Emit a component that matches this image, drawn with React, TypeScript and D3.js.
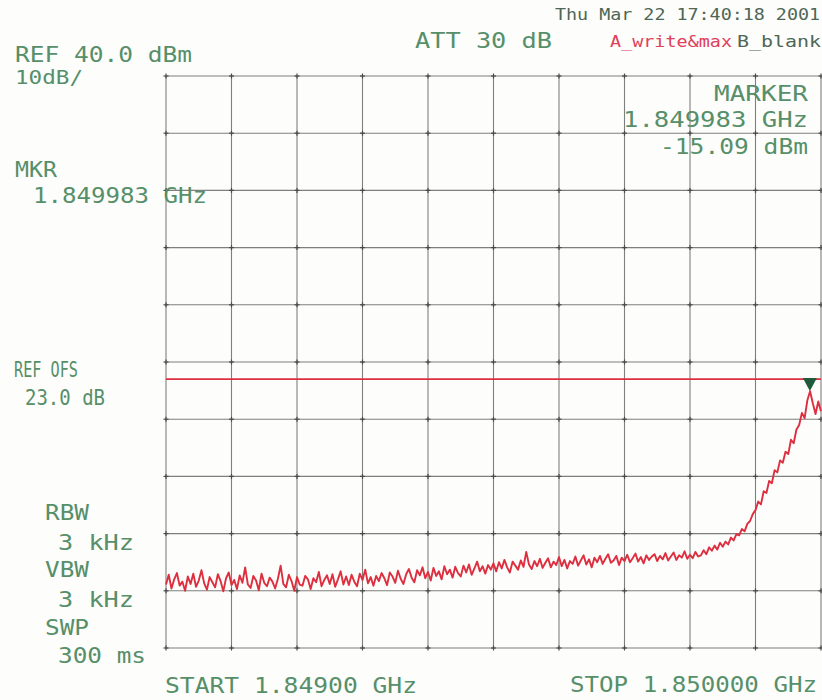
import React from "react";
import * as d3 from "d3";

// Sweep settings
const startGHz = 1.849;
const stopGHz = 1.85;
const refLevel = 40; // dBm at top graticule
const dbPerDiv = 10;
const divisions = 10;

// Display line and marker
const displayLineDbm = -13;
const markerGHz = 1.849983;
const markerDbm = -15.09;

// Trace A (write / max hold), dBm, 241 points across the span
const traceDbm = [
  -48.9, -47.2, -49.6, -48.0, -46.9, -49.1, -48.4, -50.0, -47.5, -48.8,
  -47.0, -49.3, -48.2, -46.4, -48.7, -49.8, -47.6, -48.5, -49.4, -47.1,
  -48.3, -50.1, -47.8, -46.8, -49.0, -48.1, -49.7, -47.3, -48.6, -45.9,
  -48.9, -49.5, -47.4, -48.2, -49.9, -47.0, -48.6, -49.2, -47.7, -48.4,
  -49.6, -47.9, -45.6, -48.8, -49.4, -47.2, -48.3, -50.0, -47.6, -48.9,
  -49.1, -47.4, -48.0, -49.7, -47.8, -48.5, -46.7, -49.2, -48.1, -47.3,
  -48.8, -47.1, -49.3, -48.0, -46.6, -48.9, -47.5, -49.0, -47.2, -48.4,
  -49.2, -47.0, -48.1, -46.3, -48.7, -47.6, -49.1, -47.4, -48.3, -46.9,
  -47.8, -49.0, -46.8, -47.5, -48.6, -46.5, -47.9, -48.8, -47.1, -46.2,
  -47.7, -48.5, -46.4, -47.3, -45.9, -47.8, -46.7, -48.2, -46.0, -47.4,
  -46.6, -48.0, -45.7, -47.1, -46.3, -47.7, -45.8, -46.9, -47.5, -45.6,
  -46.8, -45.4, -47.2, -46.1, -44.9, -46.6, -45.7, -47.0, -45.5, -46.3,
  -45.2, -46.6, -45.0, -46.1, -44.6, -45.9, -46.8, -44.9, -45.6, -46.3,
  -44.7, -45.8, -43.2, -45.4, -46.2, -44.8, -45.7, -44.4, -46.0, -45.1,
  -44.3, -45.9, -44.9, -45.5, -44.1, -45.7, -44.6, -46.1, -44.8, -45.3,
  -44.0, -45.6, -44.7, -43.8, -45.4, -44.5, -45.9, -44.2, -45.0, -43.9,
  -45.3, -44.4, -43.6, -45.1, -44.7, -43.9, -45.5, -44.2, -44.8, -43.7,
  -45.0, -44.3, -43.5, -44.9, -44.1, -45.2, -43.8, -44.6, -44.0, -43.6,
  -44.8, -43.9, -44.5, -43.4, -44.7, -44.0, -43.3, -44.6, -43.8, -44.2,
  -43.1, -44.4, -43.7, -44.3, -43.2, -44.0,
  -43.8, -42.9, -43.6, -42.4, -43.0, -42.1, -42.8, -41.6, -42.3, -41.4,
  -41.9, -40.7, -41.2, -40.1, -40.3, -39.2, -39.6, -38.3, -37.8, -36.6,
  -35.9, -34.4, -34.9, -32.6, -32.9, -30.8, -31.2, -28.9, -29.3, -27.2,
  -27.6, -25.7, -26.1, -23.6, -24.2, -21.8, -21.0, -18.9, -19.8, -16.7,
  -15.1, -17.2, -19.1, -16.9, -18.6,
];

// Annotation texts
const headerLeft = ["REF 40.0 dBm", "10dB/"];
const headerDate = "Thu Mar 22 17:40:18 2001";
const attText = "ATT 30 dB";
const traceAText = "A_write&max";
const traceBText = "B_blank";
const markerBlock = ["MARKER", "1.849983 GHz", "-15.09 dBm"];
const mkrBlock = ["MKR", "1.849983 GHz"];
const refOfsBlock = ["REF OFS", "23.0 dB"];
const bwBlock = ["RBW", "3 kHz", "VBW", "3 kHz", "SWP", "300 ms"];
const startText = "START 1.84900 GHz";
const stopText = "STOP 1.850000 GHz";

const W = 822;
const H = 700;
const plot = { left: 166, right: 821, top: 76, bottom: 648 };

const textGreen = "#568f69";
const textDark = "#4e6656";
const traceRed = "#dd2f3f";
const gridColor = "#6a6a6a";
const font = "'DejaVu Sans Mono', 'Liberation Mono', monospace";

type TxtProps = {
  x: number;
  y: number;
  len: number;
  size?: number;
  fill?: string;
  anchor?: "start" | "end";
  children: string;
};

function Txt({ x, y, len, size = 22, fill = textGreen, anchor = "start", children }: TxtProps) {
  return (
    <text
      x={x}
      y={y}
      fontFamily={font}
      fontSize={size}
      fill={fill}
      textAnchor={anchor}
      textLength={len}
      lengthAdjust="spacingAndGlyphs"
      style={{ whiteSpace: "pre" }}
    >
      {children}
    </text>
  );
}

export default function App() {
  const x = d3.scaleLinear().domain([startGHz, stopGHz]).range([plot.left, plot.right]);
  const bottomDbm = refLevel - dbPerDiv * divisions;
  const y = d3.scaleLinear().domain([bottomDbm, refLevel]).range([plot.bottom, plot.top]);

  const step = (stopGHz - startGHz) / (traceDbm.length - 1);
  const points: [number, number][] = traceDbm.map((v, i) => [startGHz + i * step, v]);

  const line = d3
    .line<[number, number]>()
    .x((d) => x(d[0]))
    .y((d) => y(d[1]));

  const xGrid = d3.range(divisions + 1).map((i) => startGHz + ((stopGHz - startGHz) * i) / divisions);
  const yGrid = d3.range(divisions + 1).map((i) => bottomDbm + dbPerDiv * i);

  const mx = x(markerGHz);
  const my = y(markerDbm);

  return (
    <svg
      width={W}
      height={H}
      viewBox={`0 0 ${W} ${H}`}
      style={{ position: "absolute", left: 0, top: 0, background: "#fff" }}
    >
      <rect x={0} y={0} width={W} height={H} fill="#fdfdfb" />

      {/* graticule */}
      <g stroke={gridColor} strokeWidth={1.1} opacity={0.85}>
        {xGrid.map((f, i) => (
          <line key={`vx${i}`} x1={x(f)} x2={x(f)} y1={plot.top} y2={plot.bottom} />
        ))}
        {yGrid.map((d, i) => (
          <line key={`hy${i}`} x1={plot.left} x2={plot.right} y1={y(d)} y2={y(d)} />
        ))}
      </g>
      {/* small crosses at graticule intersections */}
      <g stroke="#4a4a4a" strokeWidth={1.2}>
        {xGrid.map((f, i) =>
          yGrid.map((d, j) => (
            <g key={`c${i}-${j}`}>
              <line x1={x(f) - 2.5} x2={x(f) + 2.5} y1={y(d)} y2={y(d)} />
              <line x1={x(f)} x2={x(f)} y1={y(d) - 2.5} y2={y(d) + 2.5} />
            </g>
          ))
        )}
      </g>

      {/* display line */}
      <line
        x1={plot.left}
        x2={plot.right}
        y1={y(displayLineDbm)}
        y2={y(displayLineDbm)}
        stroke={traceRed}
        strokeWidth={1.6}
      />

      {/* trace */}
      <path d={line(points) ?? ""} fill="none" stroke={traceRed} strokeWidth={1.9} strokeLinejoin="round" />

      {/* marker */}
      <path d={`M${mx},${my} L${mx - 7},${my - 13} L${mx + 7},${my - 13} Z`} fill="#1f5a3c" />

      {/* header */}
      <Txt x={15} y={62} len={177} size={21}>{headerLeft[0]}</Txt>
      <Txt x={15} y={84} len={68} size={20}>{headerLeft[1]}</Txt>
      <Txt x={415} y={48} len={137}>{attText}</Txt>
      <Txt x={555} y={20} len={265} size={16} fill={textDark}>{headerDate}</Txt>
      <Txt x={610} y={47} len={122} size={16} fill="#e0405a">{traceAText}</Txt>
      <Txt x={737} y={47} len={84} size={16} fill={textDark}>{traceBText}</Txt>

      {/* marker readout */}
      <Txt x={808} y={101} len={94} anchor="end">{markerBlock[0]}</Txt>
      <Txt x={808} y={127} len={185} anchor="end">{markerBlock[1]}</Txt>
      <Txt x={808} y={154} len={148} anchor="end">{markerBlock[2]}</Txt>

      {/* left annotations */}
      <Txt x={15} y={177} len={42}>{mkrBlock[0]}</Txt>
      <Txt x={33} y={203} len={174}>{mkrBlock[1]}</Txt>
      <Txt x={14} y={377} len={64} size={21}>{refOfsBlock[0]}</Txt>
      <Txt x={25} y={405} len={80} size={21}>{refOfsBlock[1]}</Txt>
      <Txt x={45} y={520} len={44}>{bwBlock[0]}</Txt>
      <Txt x={58} y={550} len={76}>{bwBlock[1]}</Txt>
      <Txt x={45} y={577} len={44}>{bwBlock[2]}</Txt>
      <Txt x={58} y={607} len={76}>{bwBlock[3]}</Txt>
      <Txt x={45} y={635} len={44}>{bwBlock[4]}</Txt>
      <Txt x={58} y={663} len={88}>{bwBlock[5]}</Txt>

      {/* span */}
      <Txt x={165} y={693} len={252}>{startText}</Txt>
      <Txt x={570} y={692} len={247}>{stopText}</Txt>
    </svg>
  );
}
